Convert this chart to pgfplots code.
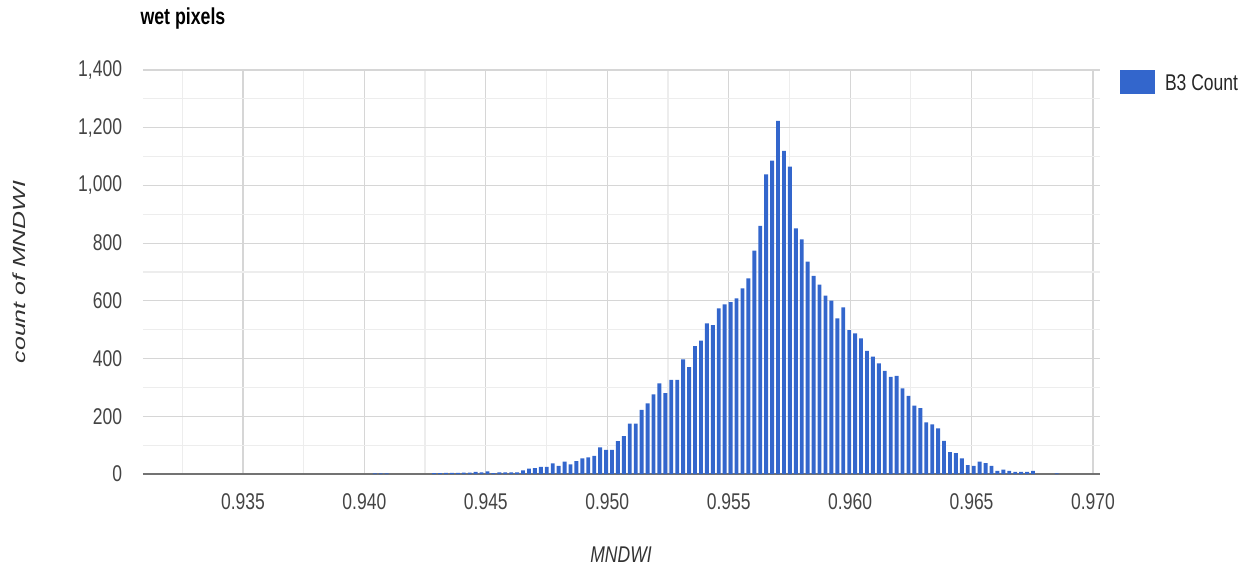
\documentclass[border=0pt]{standalone}
\usepackage{pgfplots}
\pgfplotsset{compat=1.18}
\usepackage{fontspec}
\setmainfont{Liberation Sans}
\usepackage{graphicx}
\definecolor{barblue}{HTML}{3366CC}
\definecolor{tickgray}{HTML}{444444}
\definecolor{gridmaj}{HTML}{D6D6D6}
\definecolor{gridmin}{HTML}{EDEDED}
\newcommand\sy[1]{\scalebox{1}[1.3]{#1}}
\begin{document}
\begin{tikzpicture}
\begin{axis}[
  scale only axis, width=382.8pt, height=161.6pt,
  xmin=0.930885, xmax=0.970288, ymin=0, ymax=1400,
  axis x line*=bottom, axis y line*=left,
  x axis line style={draw=black!55, line width=0.8pt, -},
  y axis line style={draw=none},
  tick style={draw=none},
  clip=false,
  ybar, bar width=1.55pt,
  xtick={0.935,0.94,0.945,0.95,0.955,0.96,0.965,0.97},
  xticklabels={\sy{0.935},\sy{0.940},\sy{0.945},\sy{0.950},\sy{0.955},\sy{0.960},\sy{0.965},\sy{0.970}},
  minor xtick={0.9325,0.9375,0.9425,0.9475,0.9525,0.9575,0.9625,0.9675},
  ytick={0,200,400,600,800,1000,1200,1400},
  yticklabels={\sy{0},\sy{200},\sy{400},\sy{600},\sy{800},\sy{1,000},\sy{1,200},\sy{1,400}},
  minor ytick={100,300,500,700,900,1100,1300},
  grid=both,
  major grid style={gridmaj, line width=0.5pt},
  minor grid style={gridmin, line width=0.5pt},
  tick label style={font=\fontsize{7}{8.4}\selectfont, text=tickgray, inner sep=0pt, outer sep=0pt},
  xticklabel style={anchor=base, yshift=-10pt},
  yticklabel style={anchor=east, xshift=-8.4pt},
  legend style={at={(1,1)}, anchor=north west, xshift=8pt, draw=none, fill=none,
    inner sep=0pt, outer sep=0pt, column sep=4pt,
    nodes={inner sep=0pt, outer sep=0pt, text=black!85},
    font=\fontsize{7}{8.4}\selectfont},
]
\addplot[fill=barblue, draw=none,
  legend image code/.code={\fill[barblue] (0pt,-3.9pt) rectangle (14pt,5.7pt);}]
coordinates {
(0.940430,2) (0.940674,2) (0.940918,2)
(0.942871,3) (0.943115,3) (0.943359,4) (0.943604,4) (0.943848,4) (0.944092,5) (0.944336,5) (0.944580,7)
(0.944824,6) (0.945068,9) (0.945313,3) (0.945557,6) (0.945801,6) (0.946045,6) (0.946289,6) (0.946533,13)
(0.946777,19) (0.947021,20) (0.947266,25) (0.947510,25) (0.947754,37) (0.947998,28) (0.948242,43) (0.948486,33)
(0.948730,45) (0.948975,54) (0.949219,58) (0.949463,63)
(0.949707,92) (0.949951,84) (0.950195,84) (0.950439,114) (0.950684,131) (0.950928,175) (0.951172,175) (0.951416,222)
(0.951660,245) (0.951904,276) (0.952148,314) (0.952393,280) (0.952637,326) (0.952881,326) (0.953125,397) (0.953369,370)
(0.953613,443) (0.953857,462) (0.954102,522) (0.954346,516) (0.954590,574) (0.954834,588) (0.955078,596)
(0.955322,609) (0.955566,643) (0.955811,678) (0.956055,774) (0.956299,860) (0.956543,1038) (0.956787,1086)
(0.957031,1224) (0.957275,1120) (0.957520,1065) (0.957764,851) (0.958008,813) (0.958252,736) (0.958496,687)
(0.958740,656) (0.958984,618) (0.959229,601)
(0.959473,539) (0.959717,577) (0.959961,499) (0.960205,487) (0.960449,470) (0.960693,427) (0.960938,407)
(0.961182,383) (0.961426,357) (0.961670,337) (0.961914,340) (0.962158,297) (0.962402,271) (0.962646,237)
(0.962891,228) (0.963135,179) (0.963379,172) (0.963623,158) (0.963867,115) (0.964111,76)
(0.964355,72) (0.964600,54) (0.964844,31) (0.965088,28) (0.965332,43) (0.965576,38) (0.965820,28)
(0.966064,11) (0.966309,15) (0.966553,11) (0.966797,7) (0.967041,7) (0.967285,7) (0.967529,11)
(0.968506,2)
};
\addlegendentry{\sy{B3 Count}}
% title and axis titles
\node[anchor=base west, inner sep=0pt, xshift=-1.2pt, yshift=18pt,
  font=\fontsize{7.1}{8.5}\selectfont\bfseries, text=black]
  at (rel axis cs:0,1) {\sy{wet pixels}};
\node[xshift=-49.6pt, rotate=90, anchor=center, inner sep=0pt,
  font=\fontsize{7}{8.4}\selectfont\itshape, text=black!80]
  at (rel axis cs:0,0.5) {\scalebox{1.42}[1]{count of MNDWI}};
\node[anchor=base, inner sep=0pt, yshift=-35.2pt,
  font=\fontsize{7}{8.4}\selectfont\itshape, text=black!80]
  at (rel axis cs:0.4995,0) {\sy{MNDWI}};
% page frame
\path (rel axis cs:0,0) ++(-57.2pt,-40.4pt) rectangle ++(500pt,230pt);
\end{axis}
\end{tikzpicture}
\end{document}
